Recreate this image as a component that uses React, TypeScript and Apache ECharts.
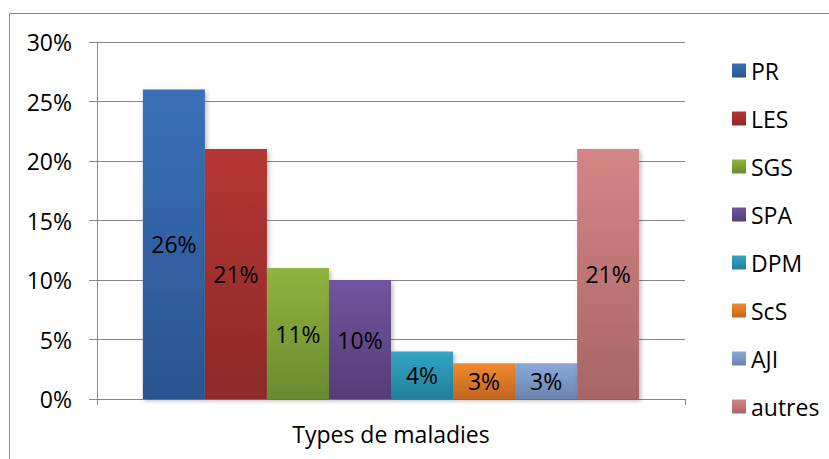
import React, { useEffect, useRef } from "react";
import * as echarts from "echarts";

const categories = ["Types de maladies"];
const seriesNames = ["PR", "LES", "SGS", "SPA", "DPM", "ScS", "AJI", "autres"];
const seriesValues = [0.26, 0.21, 0.11, 0.10, 0.04, 0.03, 0.03, 0.21];
const topColors = ["#3a70b8", "#b53633", "#8fb43f", "#73539e", "#31a5c6", "#f28a2e", "#8aa9da", "#d68585"];
const bottomColors = ["#2a5490", "#8c2929", "#6a8a30", "#553d78", "#23809a", "#c2651f", "#6b84ad", "#a86565"];
const yTicks = [0, 0.05, 0.1, 0.15, 0.2, 0.25, 0.3];

const FONT = "Open Sans";
const GRAY = "#868686";
const FS = 23;

export default function App() {
  const ref = useRef<HTMLDivElement>(null);
  useEffect(() => {
    if (!ref.current) return;
    const chart = echarts.init(ref.current, null, { renderer: "svg" });
    chart.setOption({
      animation: false,
      backgroundColor: "#ffffff",
      textStyle: { fontFamily: FONT },
      grid: { left: 97, right: 144, top: 42, bottom: 60, containLabel: false },
      legend: {
        orient: "vertical",
        left: 727,
        top: 54,
        itemWidth: 14,
        itemHeight: 14,
        itemGap: 25,
        icon: "rect",
        textStyle: { fontFamily: FONT, fontSize: FS, color: "#000", lineHeight: 23 },
        data: seriesNames,
      },
      xAxis: {
        type: "category",
        data: categories,
        axisLine: { lineStyle: { color: GRAY } },
        axisTick: { show: true, length: 6, lineStyle: { color: GRAY } },
        axisLabel: { color: "#000", fontSize: FS, fontFamily: FONT, margin: 23 },
      },
      yAxis: {
        type: "value",
        min: yTicks[0],
        max: yTicks[yTicks.length - 1],
        interval: 0.05,
        axisLine: { show: true, lineStyle: { color: GRAY } },
        axisTick: { show: true, length: 8, lineStyle: { color: GRAY } },
        splitLine: { show: true, lineStyle: { color: GRAY } },
        axisLabel: {
          color: "#000",
          fontSize: FS,
          fontFamily: FONT,
          margin: 25,
          formatter: (v: number) => Math.round(v * 100) + "%",
        },
      },
      graphic: [
        { type: "line", shape: { x1: 9.5, y1: 13.5, x2: 829, y2: 13.5 }, style: { stroke: GRAY, lineWidth: 1 } },
        { type: "line", shape: { x1: 9.5, y1: 13.5, x2: 9.5, y2: 459 }, style: { stroke: GRAY, lineWidth: 1 } },
      ],
      series: seriesNames.map((name, i) => ({
        name,
        type: "bar",
        data: [seriesValues[i]],
        barGap: "0%",
        barCategoryGap: "15.6%",
        itemStyle: {
          color: new echarts.graphic.LinearGradient(0, 0, 0, 1, [
            { offset: 0, color: topColors[i] },
            { offset: 1, color: bottomColors[i] },
          ]),
          shadowBlur: 4,
          shadowOffsetX: 2,
          shadowOffsetY: 2,
          shadowColor: "rgba(0,0,0,0.25)",
        },
        label: {
          show: true,
          position: "inside",
          color: "#000",
          fontSize: FS,
          fontFamily: FONT,
          formatter: (p: any) => Math.round(p.value * 100) + "%",
        },
      })),
    });
    return () => chart.dispose();
  }, []);
  return (
    <div
      ref={ref}
      style={{ position: "fixed", left: 0, top: 0, width: 829, height: 459 }}
    />
  );
}
